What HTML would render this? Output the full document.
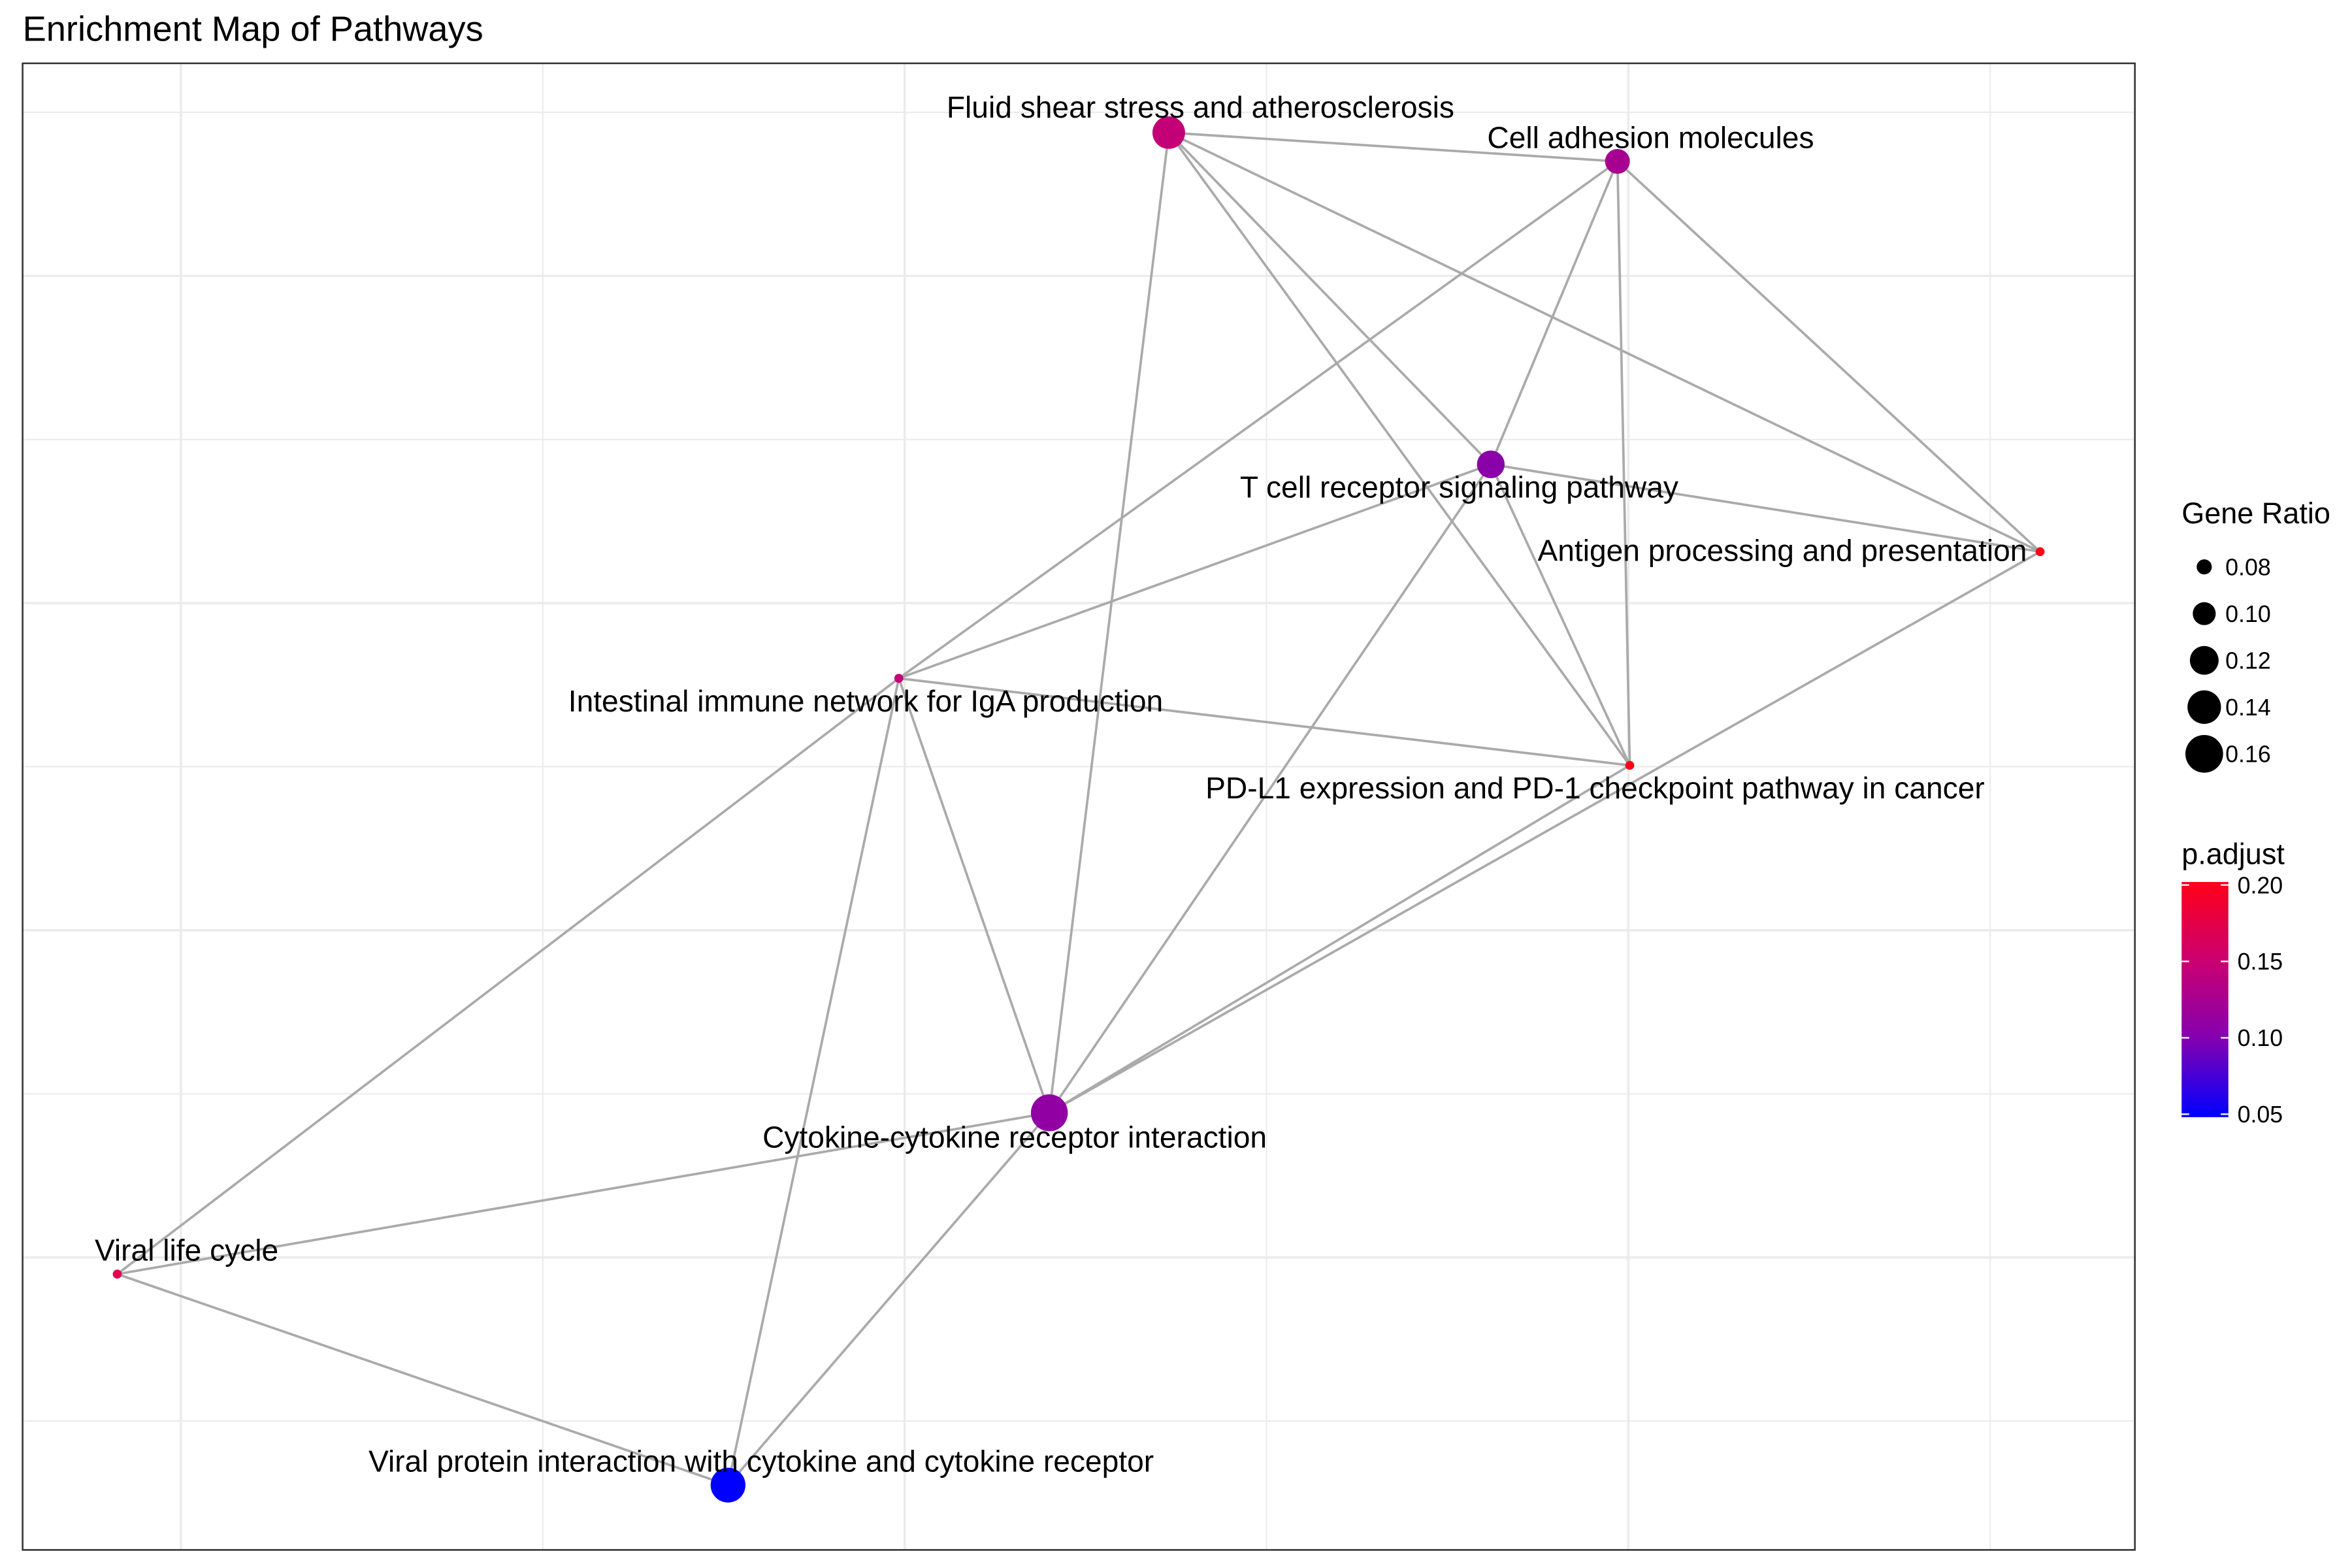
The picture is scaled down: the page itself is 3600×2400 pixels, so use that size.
<!DOCTYPE html>
<html><head><meta charset="utf-8"><style>
html,body{margin:0;padding:0;background:#fff;}
svg{display:block;font-family:"Liberation Sans",Arial,sans-serif;}
</style></head><body>
<svg id="chart" width="3600" height="2400" viewBox="0 0 1560 1040" xmlns="http://www.w3.org/2000/svg">
<defs><linearGradient id="pg" x1="0" y1="1" x2="0" y2="0">
<stop offset="0" stop-color="#0000FF"/><stop offset="0.33" stop-color="#8200B0"/><stop offset="0.67" stop-color="#CC0070"/><stop offset="1" stop-color="#FF0018"/></linearGradient></defs>
<text x="15" y="27" font-size="23.5" fill="#000">Enrichment Map of Pathways</text>
<rect x="15" y="42" width="1401" height="986" fill="#fff"/>
<g id="grid"></g>
<g id="edges"></g>
<g id="nodes"></g>
<g id="labels"></g>
<rect x="15" y="42" width="1401" height="986" fill="none" stroke="#333" stroke-width="1.1"/>
<g>
<text x="1447" y="347" font-size="19.5">Gene Ratio</text>
<g id="sizeLegend"></g>
</g>
<g>
<text x="1447" y="573" font-size="19.5">p.adjust</text>
<rect x="1447" y="585" width="31" height="156" fill="url(#pg)"/>
<g id="colorLegend"></g>
</g>
</svg>
<script>
const nodeNames = ["Fluid shear stress and atherosclerosis","Cell adhesion molecules","T cell receptor signaling pathway","Antigen processing and presentation","Intestinal immune network for IgA production","PD-L1 expression and PD-1 checkpoint pathway in cancer","Cytokine-cytokine receptor interaction","Viral life cycle","Viral protein interaction with cytokine and cytokine receptor"];
const nodeX = [1.365,1.985,1.810,2.569,0.992,2.002,1.200,-0.088,0.756];
const nodeY = [3.438,3.350,2.424,2.157,1.770,1.504,0.442,-0.051,-0.696];
const geneRatio = [0.136,0.106,0.116,0.070,0.070,0.070,0.156,0.070,0.146];
const pAdjust = [0.145,0.125,0.105,0.200,0.145,0.200,0.110,0.170,0.050];
const edgeFrom = [0,0,0,0,0,1,1,1,1,2,2,2,2,3,5,4,4,4,4,6,6,7];
const edgeTo   = [1,6,2,5,3,4,2,5,3,4,3,5,6,6,6,5,7,8,6,7,8,8];
const sizeTicks = [0.08,0.10,0.12,0.14,0.16];
const colorTicks = [0.05,0.10,0.15,0.20];
const NS="http://www.w3.org/2000/svg";
function xS(v){return 120+v*480;}
function yS(v){return 834-v*217;}
function rS(g){return Math.sqrt(Math.max(1640*g-106,6));}
function cS(p){const t=(p-0.05)/0.15;const stops=[[0,[0,0,255]],[0.33,[130,0,176]],[0.67,[204,0,112]],[1,[255,0,24]]];
 for(let i=0;i<stops.length-1;i++){const a=stops[i],b=stops[i+1];if(t<=b[0]){const u=(t-a[0])/(b[0]-a[0]);const c=a[1].map((v,k)=>Math.round(v+(b[1][k]-v)*u));return "rgb("+c.join(",")+")";}}return "rgb(255,0,24)";}
function cbY(p){return 741-(p-0.05)/0.15*152-2;}
function mk(t,attrs,parent){const e=document.createElementNS(NS,t);for(const k in attrs)e.setAttribute(k,attrs[k]);parent.appendChild(e);return e;}
const grid=document.getElementById('grid');
[0,0.5,1,1.5,2,2.5].forEach((v,i)=>{const l=mk('line',{x1:xS(v),x2:xS(v),y1:42,y2:1028,stroke:'#ebebeb','stroke-width':i%2?0.9:1.5},grid);

});
[-0.5,0,0.5,1,1.5,2,2.5,3,3.5].forEach((v,i)=>{const l=mk('line',{x1:15,x2:1416,y1:yS(v),y2:yS(v),stroke:'#ebebeb','stroke-width':i%2?1.5:0.9},grid);

});
const eg=document.getElementById('edges');
edgeFrom.forEach((f,i)=>{const t=edgeTo[i];const l=mk('line',{x1:xS(nodeX[f]),y1:yS(nodeY[f]),x2:xS(nodeX[t]),y2:yS(nodeY[t]),stroke:'#aaaaaa','stroke-width':1.6},eg);

});
const ng=document.getElementById('nodes');
const lg=document.getElementById('labels');
const ldx=[21,22,-21,-171,-22,-23,-23,46,22];
const ldy=[-10,-9,22,6,22,22,23,-9,-9];
nodeNames.forEach((n,i)=>{const cx=xS(nodeX[i]),cy=yS(nodeY[i]);
const c=mk('circle',{cx:cx,cy:cy,r:rS(geneRatio[i]),fill:cS(pAdjust[i])},ng);


const t=mk('text',{x:cx+ldx[i],y:cy+ldy[i],'font-size':20,'text-anchor':'middle',fill:'#000'},lg);
t.textContent=n;

});
const sl=document.getElementById('sizeLegend');
sizeTicks.forEach((g,i)=>{const y=376+i*31;
const c=mk('circle',{cx:1462,cy:y,r:rS(g),fill:'#000'},sl);


const t=mk('text',{x:1476,y:y+5.5,'font-size':15.5},sl);t.textContent=g.toFixed(2);

});
const cl=document.getElementById('colorLegend');
colorTicks.forEach(p=>{const y=cbY(p);
mk('line',{x1:1447,x2:1452,y1:y,y2:y,stroke:'#fff','stroke-width':1},cl);
mk('line',{x1:1473,x2:1478,y1:y,y2:y,stroke:'#fff','stroke-width':1},cl);
const t=mk('text',{x:1484,y:y+5.5,'font-size':15.5},cl);t.textContent=p.toFixed(2);

});
</script>
</body></html>
